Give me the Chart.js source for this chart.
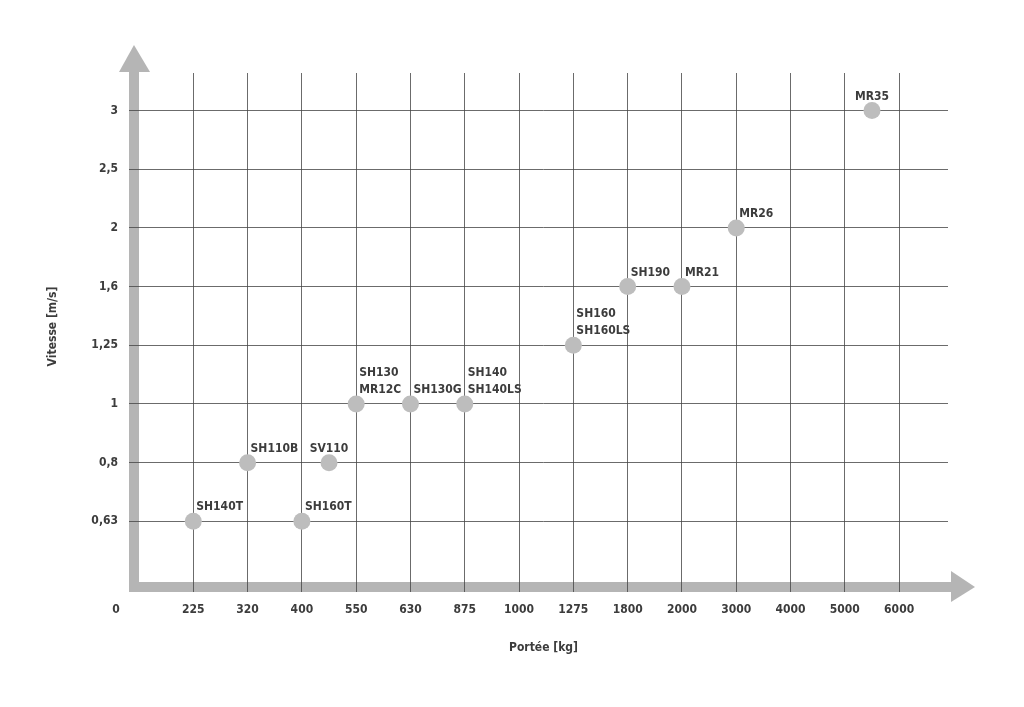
<!DOCTYPE html>
<html>
<head>
<meta charset="utf-8">
<title>Portée / Vitesse</title>
<script src="https://cdn.jsdelivr.net/npm/chart.js@4.4.1/dist/chart.umd.min.js"></script>
<style>
    html, body { margin: 0; padding: 0; background: #fff; }
    #wrap { width: 1024px; height: 707px; }
</style>
</head>
<body>
<div id="wrap"><canvas id="LiftRange"></canvas></div>
<script>
// tick labels, evenly spaced on both axes
const loadTicks = [225, 320, 400, 550, 630, 875, 1000, 1275, 1800, 2000, 3000, 4000, 5000, 6000];
const speedTicks = [0.63, 0.8, 1, 1.25, 1.6, 2, 2.5, 3];

// models
const models = ['SH140T', 'SH110B', 'SH160T', 'SV110', 'SH130\nMR12C', 'SH130G', 'SH140\nSH140LS', 'SH160\nSH160LS', 'SH190', 'MR21', 'MR26', 'MR35'];
const loads = [225, 320, 400, 475, 550, 630, 875, 1275, 1800, 2000, 3000, 5500];
const speeds = [0.63, 0.8, 0.63, 0.8, 1, 1, 1, 1.25, 1.6, 1.6, 2, 3];

// labels that sit centred above their dot
const centredLabels = ['SV110', 'MR35'];

const TEXT = '#3c3c3c';
const AXIS = '#b5b5b5';
const FONT = "'Liberation Sans Narrow', 'DejaVu Sans Condensed', sans-serif";

// the axes are not proportional: each tick gets one slot
function slot(v, ticks) {
    for (let i = 0; i < ticks.length - 1; i++) {
        if (v <= ticks[i + 1]) return i + 1 + (v - ticks[i]) / (ticks[i + 1] - ticks[i]);
    }
    return ticks.length;
}

const points = models.map((m, i) => ({ x: slot(loads[i], loadTicks), y: slot(speeds[i], speedTicks), name: m }));

// thick grey arrows for the axes, the lone "0" and the model names
const decor = {
    id: 'decor',
    beforeDraw(chart) {
        const ctx = chart.ctx;
        const a = chart.chartArea;
        ctx.save();
        ctx.fillStyle = AXIS;
        // vertical arrow
        ctx.fillRect(a.left - 10, a.top - 1, 10, a.bottom - a.top + 13);
        ctx.beginPath();
        ctx.moveTo(a.left - 5, a.top - 28);
        ctx.lineTo(a.left + 11, a.top - 1);
        ctx.lineTo(a.left - 20, a.top - 1);
        ctx.closePath();
        ctx.fill();
        // horizontal arrow
        ctx.fillRect(a.left - 10, a.bottom + 2, a.right - a.left + 13, 10);
        ctx.beginPath();
        ctx.moveTo(a.right + 27, a.bottom + 7);
        ctx.lineTo(a.right + 3, a.bottom - 9);
        ctx.lineTo(a.right + 3, a.bottom + 22);
        ctx.closePath();
        ctx.fill();
        ctx.restore();
    },
    afterDatasetsDraw(chart) {
        const ctx = chart.ctx;
        const a = chart.chartArea;
        const meta = chart.getDatasetMeta(0);
        ctx.save();
        ctx.fillStyle = TEXT;
        ctx.font = 'bold 12px ' + FONT;
        ctx.textBaseline = 'middle';
        ctx.textAlign = 'center';
        ctx.fillText('0', a.left - 23, a.bottom + 30);
        meta.data.forEach((el, i) => {
            const lines = points[i].name.split('\n');
            const centred = centredLabels.includes(points[i].name);
            ctx.textAlign = centred ? 'center' : 'left';
            const x = centred ? el.x : el.x + 3;
            lines.forEach((ln, k) => {
                ctx.fillText(ln, x, el.y - 14 - (lines.length - 1 - k) * 17);
            });
        });
        ctx.restore();
    }
};

Chart.defaults.font.family = FONT;
Chart.defaults.font.weight = 'bold';
Chart.defaults.font.size = 12;
Chart.defaults.color = TEXT;

new Chart('LiftRange', {
    type: 'scatter',
    data: {
        datasets: [{
            label: 'Ascenseurs',
            data: points,
            backgroundColor: '#bdbdbd',
            borderWidth: 0,
            pointRadius: 8.5,
            pointHoverRadius: 8.5
        }]
    },
    options: {
        animation: false,
        maintainAspectRatio: false,
        layout: {
            padding: { left: 0, right: 76, top: 73, bottom: 0 }
        },
        plugins: {
            legend: { display: false },
            tooltip: { enabled: false }
        },
        scales: {
            x: {
                type: 'linear',
                min: 0,
                max: 14.9,
                afterBuildTicks: axis => { axis.ticks = loadTicks.map((v, i) => ({ value: i + 1 })); },
                afterFit: axis => { axis.height = 127; },
                ticks: {
                    padding: 11,
                    callback: (v, i) => String(loadTicks[i])
                },
                grid: {
                    color: 'rgba(70,70,70,0.8)',
                    lineWidth: 1,
                    tickLength: 12
                },
                border: { display: false },
                title: {
                    display: true,
                    text: 'Portée [kg]',
                    padding: { top: 0, bottom: 52 }
                }
            },
            y: {
                type: 'linear',
                min: 0,
                max: 8.64,
                afterBuildTicks: axis => { axis.ticks = speedTicks.map((v, i) => ({ value: i + 1 })); },
                afterFit: axis => { axis.width = 139; },
                ticks: {
                    padding: 11,
                    callback: (v, i) => String(speedTicks[i]).replace('.', ',')
                },
                grid: {
                    color: 'rgba(70,70,70,0.8)',
                    lineWidth: 1,
                    tickLength: 10
                },
                border: { display: false },
                title: {
                    display: true,
                    text: 'Vitesse [m/s]',
                    padding: { top: 46, bottom: 0 }
                }
            }
        }
    },
    plugins: [decor]
});
</script>
</body>
</html>
